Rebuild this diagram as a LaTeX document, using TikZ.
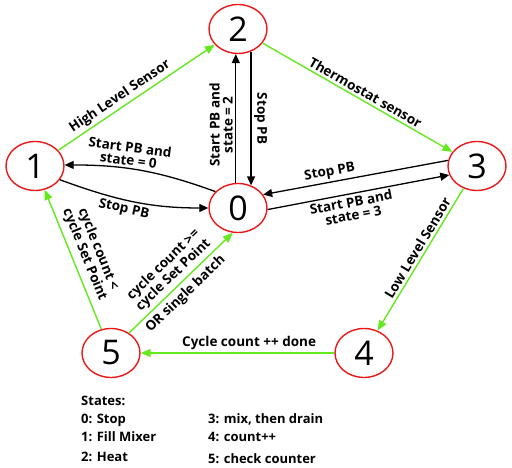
\documentclass[tikz,border=0pt]{standalone}
\usepackage{fontspec}
\setmainfont{Open Sans}
\usetikzlibrary{arrows.meta,positioning,shapes.geometric}
\definecolor{sensorgreen}{RGB}{100,232,30}
\definecolor{statered}{RGB}{236,24,24}

\begin{document}
\begin{tikzpicture}[x=1pt,y=1pt,
	state/.style={ellipse,draw=statered,line width=1.4pt,minimum width=58pt,minimum height=49pt,inner sep=0pt,font=\fontsize{34}{34}\selectfont},
	sensor/.style={draw=sensorgreen,line width=1.4pt,-{Triangle[length=10pt,width=8pt]}},
	push/.style={draw=black,line width=1.3pt,-{Triangle[length=9pt,width=8pt]}},
	lbl/.style={font=\bfseries\fontsize{13.5}{13}\selectfont,align=center,inner sep=2.5pt},
	legend/.style={font=\bfseries\fontsize{13}{13}\selectfont,inner sep=0pt,anchor=base west}]
		\useasboundingbox (0,0) rectangle (512,468);
		% states
		\node[state] (n0) at (238,260) {0};
		\node[state] (n1) at (35,302) {1};
		\node[state] (n2) at (238,439) {2};
		\node[state] (n3) at (477,302) {3};
		\node[state] (n4) at (364,115) {4};
		\node[state] (n5) at (111,115) {5};
		% sensor transitions
		\draw[sensor] (n1) -- node[lbl,sloped,above,pos=0.43] {High Level Sensor} (n2);
		\draw[sensor] (n2) -- node[lbl,sloped,above,pos=0.52] {Thermostat sensor} (n3);
		\draw[sensor] (n3) -- node[lbl,sloped,above,pos=0.45] {Low Level Sensor} (n4);
		\draw[sensor] (n4) -- node[lbl,above,pos=0.44] {Cycle count ++ done} (n5);
		\draw[sensor] (n5) -- node[lbl,sloped,above,pos=0.5,inner sep=5pt] {cycle count <\\cycle Set Point} (n1);
		\draw[sensor] (n5.48) -- node[lbl,sloped,above,pos=0.5,inner sep=3pt] {cycle count >=\\cycle Set Point} node[lbl,sloped,below,pos=0.47,inner sep=4pt] {OR single batch} (n0.-102);
		% push buttons
		\draw[push] (n0.144) to[out=160,in=0] node[lbl,sloped,above,pos=0.6] {Start PB and\\state = 0} (n1.2);
		\draw[push] (n1.-29) to[out=-20,in=180] node[lbl,sloped,below,pos=0.45] {Stop PB} (n0.west);
		\draw[push] (n0.95) -- node[lbl,rotate=90,above,pos=0.45] {Start PB and\\state = 2} (n2.-95);
		\draw[push] (n2.-60) -- node[lbl,rotate=-90,above,pos=0.5] {Stop PB} (n0.60);
		\draw[push] (n3.169) -- node[lbl,sloped,above,pos=0.63] {Stop PB} (n0.28);
		\draw[push] (n0.-3) -- node[lbl,sloped,below,pos=0.45] {Start PB and\\state = 3} (n3.198);
		% legend
		\node[legend] (st) at (81,62) {States:};
		\node[legend] (s0) at (81,44) {0: Stop};
		\node[legend] (s1) at (81,26) {1: Fill Mixer};
		\node[legend] (s2) at (81,6) {2: Heat};
		\node[legend] (s3) at (208,44) {3: mix, then drain};
		\node[legend] (s4) at (208,26) {4: count++};
		\node[legend] (s5) at (208,4) {5: check counter};
\end{tikzpicture}
\end{document}
